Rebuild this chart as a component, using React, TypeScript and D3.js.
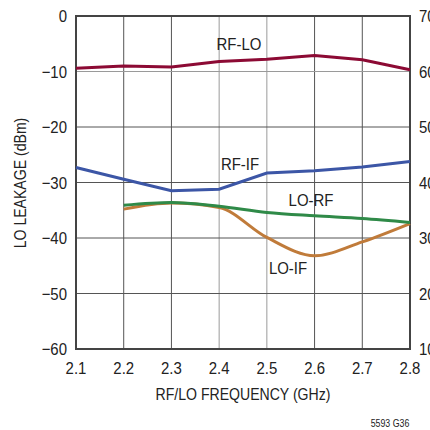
import React from "react";
import * as d3 from "d3";

const freqs = [2.1, 2.2, 2.3, 2.4, 2.5, 2.6, 2.7, 2.8];
const rfLo = [-9.4, -9.0, -9.2, -8.2, -7.8, -7.1, -7.9, -9.7];
const rfIf = [-27.3, -29.4, -31.5, -31.2, -28.3, -27.9, -27.2, -26.2];
const loRfFreqs = [2.2, 2.3, 2.4, 2.5, 2.6, 2.7, 2.8];
const loRf = [-34.1, -33.6, -34.3, -35.4, -36.0, -36.5, -37.2];
const loIfFreqs = [2.2, 2.3, 2.4, 2.5, 2.6, 2.7, 2.8];
const loIf = [-34.8, -33.7, -34.5, -39.9, -43.2, -40.7, -37.4];
const xTicks = [2.1, 2.2, 2.3, 2.4, 2.5, 2.6, 2.7, 2.8];
const yTicks = [0, -10, -20, -30, -40, -50, -60];
const yRightTicks = [70, 60, 50, 40, 30, 20, 10];

const FONT = "'Liberation Sans', Arial, sans-serif";
const SX = 0.88;

function T({ x, y, anchor = "middle", size = 17, rotate = 0, children }: any) {
  return (
    <text
      transform={`translate(${x},${y}) rotate(${rotate}) scale(${SX},1)`}
      dy="0.36em"
      textAnchor={anchor}
      fontSize={size}
      fill="#222"
    >
      {children}
    </text>
  );
}

export default function App() {
  const L = 76, R = 410, Tp = 16, B = 349;
  const x = d3.scaleLinear().domain([2.1, 2.8]).range([L, R]);
  const y = d3.scaleLinear().domain([-60, 0]).range([B, Tp]);
  const yR = d3.scaleLinear().domain([10, 70]).range([B, Tp]);

  const lineLinear = d3.line<[number, number]>().x(d => x(d[0])).y(d => y(d[1]));
  const lineSmooth = d3.line<[number, number]>().x(d => x(d[0])).y(d => y(d[1])).curve(d3.curveMonotoneX);

  const zip = (xs: number[], ys: number[]) => xs.map((v, i) => [v, ys[i]] as [number, number]);
  const lightX = new Set([2.4, 2.5]);
  const lightY = new Set([-10]);

  return (
    <svg width={430} height={430} style={{ position: "absolute", left: 0, top: 0 }} fontFamily={FONT}>
      <rect width={430} height={430} fill="#fff" />
      {xTicks.slice(1, -1).map(t => (
        <line key={"gx" + t} x1={x(t)} x2={x(t)} y1={Tp} y2={B} stroke={lightX.has(t) ? "#9a9a9a" : "#555"} strokeWidth={1} />
      ))}
      {yTicks.slice(1, -1).map(t => (
        <line key={"gy" + t} x1={L} x2={R} y1={y(t)} y2={y(t)} stroke={lightY.has(t) ? "#9a9a9a" : "#555"} strokeWidth={1} />
      ))}
      <rect x={L} y={Tp} width={R - L} height={B - Tp} fill="none" stroke="#444" strokeWidth={2} />

      <path d={lineLinear(zip(freqs, rfLo)) || ""} fill="none" stroke="#8c0a34" strokeWidth={3} />
      <path d={lineLinear(zip(freqs, rfIf)) || ""} fill="none" stroke="#3c56a6" strokeWidth={3} />
      <path d={lineSmooth(zip(loIfFreqs, loIf)) || ""} fill="none" stroke="#c07b3a" strokeWidth={3} />
      <path d={lineSmooth(zip(loRfFreqs, loRf)) || ""} fill="none" stroke="#2f8a48" strokeWidth={3} />

      {yTicks.map(t => (
        <T key={"yl" + t} x={67} y={y(t)} anchor="end">
          {t < 0 ? "\u2212" + Math.abs(t) : t}
        </T>
      ))}
      {yRightTicks.map(t => (
        <T key={"yr" + t} x={419} y={yR(t)} anchor="start">
          {t}
        </T>
      ))}
      {xTicks.map(t => (
        <T key={"xl" + t} x={x(t)} y={368}>
          {t.toFixed(1)}
        </T>
      ))}
      <T x={243} y={394} size={16}>RF/LO FREQUENCY (GHz)</T>
      <T x={20} y={183} size={16} rotate={-90}>LO LEAKAGE (dBm)</T>

      <T x={239} y={44}>RF-LO</T>
      <T x={240} y={164}>RF-IF</T>
      <T x={311} y={200}>LO-RF</T>
      <T x={288} y={268}>LO-IF</T>

      <T x={390} y={423} size={10}>5593 G36</T>
    </svg>
  );
}
